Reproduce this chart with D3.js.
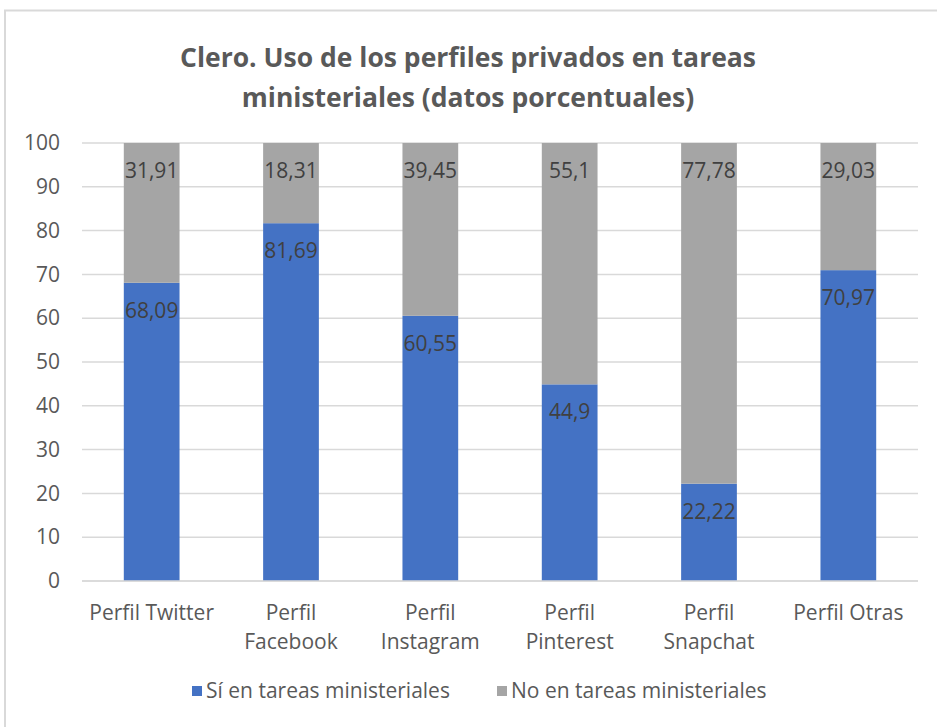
<!DOCTYPE html>
<html>
<head>
<meta charset="utf-8">
<script src="https://cdn.jsdelivr.net/npm/d3@7"></script>
<style>
  body { margin: 0; background: #fff; }
  svg { display: block; font-family: 'Open Sans', sans-serif; }
</style>
</head>
<body>
<svg width="937" height="727"></svg>
<script>
// Data
const categories = ['Perfil Twitter', 'Perfil Facebook', 'Perfil Instagram', 'Perfil Pinterest', 'Perfil Snapchat', 'Perfil Otras'];
const siValues = [68.09, 81.69, 60.55, 44.9, 22.22, 70.97];
const noValues = [31.91, 18.31, 39.45, 55.1, 77.78, 29.03];
const seriesNames = ['Sí en tareas ministeriales', 'No en tareas ministeriales'];
const yTicks = [0, 10, 20, 30, 40, 50, 60, 70, 80, 90, 100];
const titleLines = ['Clero. Uso de los perfiles privados en tareas', 'ministeriales (datos porcentuales)'];

const colors = ['#4472C4', '#A5A5A5'];

const svg = d3.select('svg');
const margin = { top: 143, right: 19, bottom: 146, left: 82 };
const width = 937 - margin.left - margin.right;
const height = 727 - margin.top - margin.bottom;

// chart border (only top/left visible in the crop)
svg.append('rect')
  .attr('x', 5).attr('y', 10.5)
  .attr('width', 960).attr('height', 760)
  .attr('fill', 'none')
  .attr('stroke', '#d9d9d9')
  .attr('stroke-width', 2);

// title
svg.append('text')
  .attr('x', 468).attr('y', 67)
  .attr('text-anchor', 'middle')
  .attr('fill', '#595959')
  .style('font-size', '26.5px')
  .style('font-weight', 'bold')
  .selectAll('tspan')
  .data(titleLines)
  .enter()
  .append('tspan')
  .attr('x', 468)
  .attr('dy', (d, i) => i === 0 ? 0 : 40)
  .text(d => d);

const g = svg.append('g').attr('transform', `translate(${margin.left}, ${margin.top})`);

const xScale = d3.scaleBand().domain(categories).range([0, width]).paddingInner(0.6).paddingOuter(0.3);
const yScale = d3.scaleLinear().domain([0, 100]).range([height, 0]);

// gridlines
g.selectAll('.grid')
  .data(yTicks)
  .enter()
  .append('line')
  .attr('x1', 0).attr('x2', width)
  .attr('y1', d => yScale(d)).attr('y2', d => yScale(d))
  .attr('stroke', '#d9d9d9')
  .attr('stroke-width', 1.5);

// y axis
const yAxis = g.append('g')
  .call(d3.axisLeft(yScale).tickValues(yTicks).tickSize(0).tickPadding(22));
yAxis.select('.domain').remove();
yAxis.selectAll('text').attr('fill', '#595959').style('font-size', '21px').style('font-family', "'Open Sans', sans-serif");

// stacked bars
const stackData = categories.map((c, i) => ({ cat: c, si: siValues[i], no: noValues[i] }));
const stack = d3.stack().keys(['si', 'no'])(stackData);

const layers = g.selectAll('.layer')
  .data(stack)
  .enter()
  .append('g')
  .attr('fill', (d, i) => colors[i]);

layers.selectAll('rect')
  .data(d => d)
  .enter()
  .append('rect')
  .attr('x', d => xScale(d.data.cat))
  .attr('width', xScale.bandwidth())
  .attr('y', d => yScale(d[1]))
  .attr('height', d => yScale(d[0]) - yScale(d[1]));

layers.selectAll('text')
  .data(d => d)
  .enter()
  .append('text')
  .attr('x', d => xScale(d.data.cat) + xScale.bandwidth() / 2)
  .attr('y', d => yScale(d[1]) + 27)
  .attr('text-anchor', 'middle')
  .attr('dominant-baseline', 'central')
  .attr('fill', '#404040')
  .style('font-size', '21px')
  .text(d => String(+(d[1] - d[0]).toFixed(2)).replace('.', ','));

// x axis line
g.append('line')
  .attr('x1', 0).attr('x2', width)
  .attr('y1', height).attr('y2', height)
  .attr('stroke', '#d9d9d9')
  .attr('stroke-width', 1.5);

// x labels (wrap like Excel)
const xLabels = g.selectAll('.xlabel')
  .data(categories)
  .enter()
  .append('text')
  .attr('text-anchor', 'middle')
  .attr('fill', '#595959')
  .style('font-size', '21px');

xLabels.each(function(d) {
  const lines = (d === 'Perfil Twitter' || d === 'Perfil Otras') ? [d] : d.split(' ');
  const cx = xScale(d) + xScale.bandwidth() / 2;
  d3.select(this).selectAll('tspan')
    .data(lines)
    .enter()
    .append('tspan')
    .attr('x', cx)
    .attr('y', (l, i) => height + 39 + i * 29)
    .text(l => l);
});

// legend
const legendItems = [{ x: 192, name: seriesNames[0], color: colors[0] }, { x: 497, name: seriesNames[1], color: colors[1] }];
const legend = svg.append('g');
legend.selectAll('rect')
  .data(legendItems)
  .enter()
  .append('rect')
  .attr('x', d => d.x).attr('y', 686)
  .attr('width', 10).attr('height', 10)
  .attr('fill', d => d.color);
legend.selectAll('text')
  .data(legendItems)
  .enter()
  .append('text')
  .attr('x', d => d.x + 14).attr('y', 698)
  .attr('fill', '#595959')
  .style('font-size', '21px')
  .text(d => d.name);
</script>
</body>
</html>
